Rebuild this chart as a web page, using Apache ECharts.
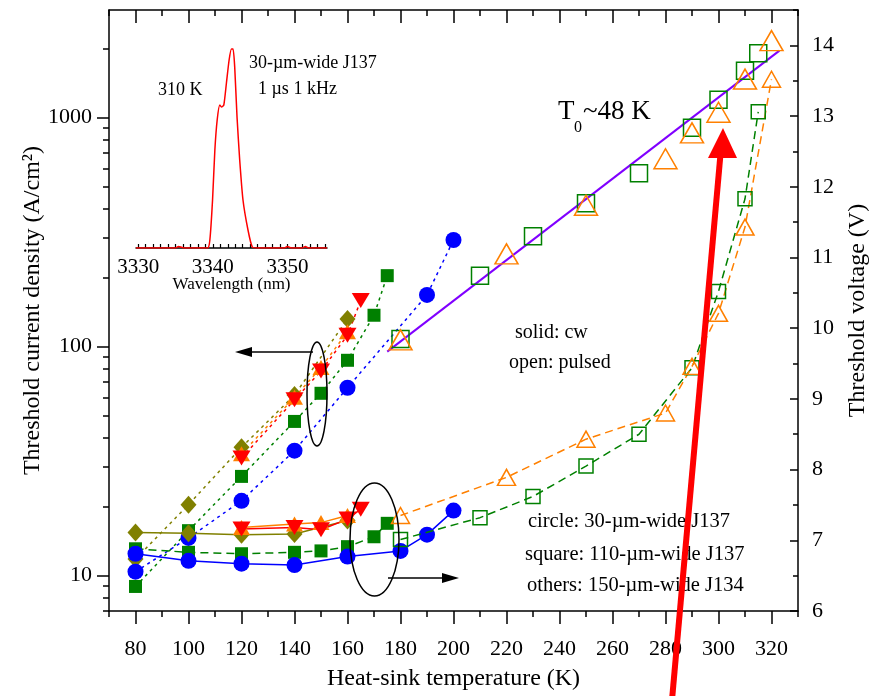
<!DOCTYPE html>
<html>
<head>
<meta charset="utf-8">
<script src="https://cdn.jsdelivr.net/npm/echarts@6/dist/echarts.min.js"></script>
<style>
html, body { margin: 0; padding: 0; background: #fff; }
#chart { width: 878px; height: 696px; }
</style>
</head>
<body>
<div id="chart"></div>
<script>
// tick values
const tempMajor = [80, 100, 120, 140, 160, 180, 200, 220, 240, 260, 280, 300, 320];
const tempMinor = [70, 90, 110, 130, 150, 170, 190, 210, 230, 250, 270, 290, 310, 330];
const jthMajor = [10, 100, 1000];
const jthMinor = [7, 8, 9, 20, 30, 40, 50, 60, 70, 80, 90, 200, 300, 400, 500, 600, 700, 800, 900, 2000];
const voltMajor = [6, 7, 8, 9, 10, 11, 12, 13, 14];
const voltMinor = [6.5, 7.5, 8.5, 9.5, 10.5, 11.5, 12.5, 13.5, 14.5];
const wlLabels = [3330, 3340, 3350];
const wlTicks = [3330, 3331, 3332, 3333, 3334, 3335, 3336, 3337, 3338, 3339, 3340, 3341, 3342, 3343, 3344,
  3345, 3346, 3347, 3348, 3349, 3350, 3351, 3352, 3353, 3354, 3355];

// threshold current density, cw (left axis)
const tOliveCw = [80, 100, 120, 140, 160];
const jOliveCw = [11.8, 20.4, 36.3, 61.4, 132];
const tSquareCw = [80, 100, 120, 140, 150, 160, 170, 175];
const jSquareCw = [8.96, 15.7, 27.1, 47.1, 62.5, 87.1, 137, 204];
const tOrangeCw = [120, 140, 150, 160];
const jOrangeCw = [34, 60, 81, 116];
const tRedCw = [120, 140, 150, 160, 165];
const jRedCw = [32.6, 58.5, 78.2, 112, 159];
const tCircleCw = [80, 100, 120, 140, 160, 190, 200];
const jCircleCw = [10.4, 14.6, 21.2, 35.1, 66.1, 168, 292];

// threshold current density, pulsed (left axis)
const tSquarePulsed = [180, 210, 230, 250, 270, 290, 300, 310, 315];
const jSquarePulsed = [108, 204, 303, 423, 571, 902, 1197, 1600, 1910];
const tTriPulsed = [180, 220, 250, 280, 290, 300, 310, 320];
const jTriPulsed = [107, 254, 414, 661, 857, 1055, 1473, 2167];

// T0 ~ 48 K fit line
const tFit = [175, 323];
const jFit = [95, 1960];

// threshold voltage, cw (right axis)
const vOliveCw = [7.11, 7.10, 7.08, 7.09, 7.28];
const vSquareCw = [6.88, 6.83, 6.81, 6.83, 6.85, 6.91, 7.05, 7.24];
const vOrangeCw = [7.18, 7.23, 7.25, 7.35];
const vRedCw = [7.16, 7.18, 7.15, 7.30, 7.44];
const tCircleV = [80, 100, 120, 140, 160, 180, 190, 200];
const vCircleCw = [6.81, 6.71, 6.67, 6.65, 6.77, 6.85, 7.08, 7.42];

// threshold voltage, pulsed (right axis)
const vSquarePulsed = [7.01, 7.32, 7.62, 8.05, 8.50, 9.44, 10.52, 11.83, 13.06];
const vTriPulsed = [7.35, 7.89, 8.43, 8.80, 9.46, 10.21, 11.43, 13.52];

// inset spectrum, 310 K
const wavelength = [3329.7, 3335.0, 3335.4, 3335.8, 3336.2, 3339.3, 3339.6, 3339.96, 3340.27, 3340.58, 3340.93,
  3341.16, 3341.47, 3341.82, 3342.18, 3342.49, 3342.71, 3342.93, 3343.24, 3343.6, 3344.04, 3344.71,
  3345.29, 3346.0, 3349.6, 3350.0, 3350.5, 3352.0, 3352.4, 3352.8, 3355.3];
const intensity = [0, 0, 0.008, 0.004, 0, 0, 0.04, 0.24, 0.49, 0.64, 0.715,
  0.705, 0.715, 0.825, 0.94, 0.995, 0.995, 0.905, 0.655, 0.44, 0.24, 0.09,
  0.005, 0, 0, 0.008, 0, 0, 0.008, 0, 0];

const FONT = 'Liberation Serif';
const pts = (xs, ys) => xs.map((x, i) => [x, ys[i]]);

const chart = echarts.init(document.getElementById('chart'));

function tickAxis(extra) {
  return Object.assign({
    type: 'value',
    gridIndex: 0,
    splitLine: { show: false },
    axisLine: { show: false },
    axisLabel: { show: false },
    axisTick: { show: true, lineStyle: { color: '#000', width: 1.5 } }
  }, extra);
}

function jthSeries(name, xs, ys, color, symbol, size, rotate, z) {
  return {
    name, type: 'line', xAxisIndex: 0, yAxisIndex: 0,
    data: pts(xs, ys), symbol, symbolSize: size, symbolRotate: rotate || 0,
    itemStyle: { color },
    lineStyle: { color, width: 1.5, type: [3, 4] },
    z: z || 3
  };
}
function voltSeries(name, xs, ys, color, symbol, size, rotate, dash, z) {
  return {
    name, type: 'line', xAxisIndex: 0, yAxisIndex: 2,
    data: pts(xs, ys), symbol, symbolSize: size, symbolRotate: rotate || 0,
    itemStyle: { color },
    lineStyle: { color, width: 1.5, type: dash || 'solid' },
    z: z || 3
  };
}
function openSeries(name, xs, ys, color, symbol, size, yIdx, dash) {
  return {
    name, type: 'line', xAxisIndex: 0, yAxisIndex: yIdx,
    data: pts(xs, ys), symbol, symbolSize: size,
    itemStyle: { color: 'rgba(0,0,0,0)', borderColor: color, borderWidth: 1.5 },
    lineStyle: dash ? { color, width: 1.5, type: dash } : { width: 0, opacity: 0 },
    z: 4
  };
}

const txt = (x, y, text, size, align) => ({
  type: 'text', x, y, z: 50,
  style: { text, font: size + 'px "' + FONT + '"', fill: '#000', align: align || 'left', verticalAlign: 'middle' }
});

const option = {
  animation: false,
  backgroundColor: '#fff',
  grid: [
    { left: 109, top: 10, width: 692, height: 604 },
    { left: 136, top: 48, width: 191, height: 200 }
  ],
  xAxis: [
    {
      type: 'value', gridIndex: 0, position: 'bottom', min: 70, max: 330,
      splitLine: { show: false },
      axisLine: { lineStyle: { color: '#000', width: 1.5 } },
      axisTick: { customValues: tempMajor, length: 13, lineStyle: { color: '#000', width: 1.5 } },
      axisLabel: { customValues: tempMajor, margin: 27, fontSize: 22, fontFamily: FONT, color: '#000' },
      name: 'Heat-sink temperature (K)', nameLocation: 'middle', nameGap: 56, nameMoveOverlap: false,
      nameTextStyle: { fontSize: 24, fontFamily: FONT, color: '#000' }
    },
    tickAxis({ position: 'bottom', min: 70, max: 330, axisTick: { customValues: tempMinor, length: 6, lineStyle: { color: '#000', width: 1.5 } } }),
    {
      type: 'value', gridIndex: 0, position: 'top', min: 70, max: 330,
      splitLine: { show: false },
      axisLine: { lineStyle: { color: '#000', width: 1.5 } },
      axisTick: { inside: true, customValues: tempMajor, length: 13, lineStyle: { color: '#000', width: 1.5 } },
      axisLabel: { show: false }
    },
    tickAxis({ position: 'top', min: 70, max: 330, axisTick: { inside: true, customValues: tempMinor, length: 6, lineStyle: { color: '#000', width: 1.5 } } }),
    {
      type: 'value', gridIndex: 1, position: 'bottom', min: 3329.7, max: 3355.3,
      splitLine: { show: false },
      axisLine: { lineStyle: { color: '#000', width: 1.5 } },
      axisTick: { inside: true, customValues: wlTicks, length: 4, lineStyle: { color: '#000', width: 1.2 } },
      axisLabel: { customValues: wlLabels, margin: 9, fontSize: 21, fontFamily: FONT, color: '#000', formatter: v => String(v) },
      name: 'Wavelength (nm)', nameLocation: 'middle', nameGap: 28, nameMoveOverlap: false,
      nameTextStyle: { fontSize: 17, fontFamily: FONT, color: '#000' }
    }
  ],
  yAxis: [
    {
      type: 'log', logBase: 10, gridIndex: 0, position: 'left', min: 7, max: 2950,
      splitLine: { show: false },
      axisLine: { lineStyle: { color: '#000', width: 1.5 } },
      axisTick: { customValues: jthMajor, length: 12, lineStyle: { color: '#000', width: 1.5 } },
      axisLabel: { customValues: jthMajor, margin: 17, fontSize: 22, fontFamily: FONT, color: '#000', formatter: v => String(Math.round(v)) },
      name: 'Threshold current density (A/cm²)', nameLocation: 'middle', nameGap: 64, nameRotate: 90,
      nameMoveOverlap: false,
      nameTextStyle: { fontSize: 24, fontFamily: FONT, color: '#000' }
    },
    tickAxis({ type: 'log', logBase: 10, position: 'left', min: 7, max: 2950, axisTick: { customValues: jthMinor, length: 6, lineStyle: { color: '#000', width: 1.5 } } }),
    {
      type: 'value', gridIndex: 0, position: 'right', min: 6, max: 14.5,
      splitLine: { show: false },
      axisLine: { lineStyle: { color: '#000', width: 1.5 } },
      axisTick: { inside: true, customValues: voltMajor, length: 8, lineStyle: { color: '#000', width: 1.5 } },
      axisLabel: { customValues: voltMajor, margin: 14, fontSize: 22, fontFamily: FONT, color: '#000' },
      name: 'Threshold voltage (V)', nameLocation: 'middle', nameGap: 48, nameRotate: 90,
      nameMoveOverlap: false,
      nameTextStyle: { fontSize: 24, fontFamily: FONT, color: '#000' }
    },
    tickAxis({ position: 'right', min: 6, max: 14.5, axisTick: { inside: true, customValues: voltMinor, length: 5, lineStyle: { color: '#000', width: 1.5 } } }),
    { type: 'value', gridIndex: 1, min: 0, max: 1, show: false }
  ],
  series: [
    jthSeries('J olive cw', tOliveCw, jOliveCw, '#808000', 'diamond', [16, 18]),
    jthSeries('J square cw', tSquareCw, jSquareCw, '#008000', 'rect', 13),
    jthSeries('J orange cw', tOrangeCw, jOrangeCw, '#FF8000', 'triangle', [17, 15]),
    jthSeries('J red cw', tRedCw, jRedCw, '#FF0000', 'triangle', [18, 15], 180),
    jthSeries('J circle cw', tCircleCw, jCircleCw, '#0000FF', 'circle', 16),
    {
      name: 'T0 fit', type: 'line', xAxisIndex: 0, yAxisIndex: 0, data: pts(tFit, jFit),
      symbol: 'none', lineStyle: { color: '#8000FF', width: 2 }, z: 3
    },
    openSeries('J square pulsed', tSquarePulsed, jSquarePulsed, '#008000', 'rect', 17, 0),
    openSeries('J triangle pulsed', tTriPulsed, jTriPulsed, '#FF8000', 'triangle', [23, 20], 0),

    voltSeries('V olive cw', tOliveCw, vOliveCw, '#808000', 'diamond', [16, 18]),
    voltSeries('V square cw', tSquareCw, vSquareCw, '#008000', 'rect', 13, 0, [8, 5]),
    voltSeries('V orange cw', tOrangeCw, vOrangeCw, '#FF8000', 'triangle', [17, 15]),
    voltSeries('V red cw', tRedCw, vRedCw, '#FF0000', 'triangle', [18, 15], 180),
    voltSeries('V circle cw', tCircleV, vCircleCw, '#0000FF', 'circle', 16),
    openSeries('V square pulsed', tSquarePulsed, vSquarePulsed, '#008000', 'rect', 14, 2, [8, 5]),
    openSeries('V triangle pulsed', tTriPulsed, vTriPulsed, '#FF8000', 'triangle', [18, 16], 2, [8, 5]),

    {
      name: 'spectrum', type: 'line', xAxisIndex: 4, yAxisIndex: 4,
      data: pts(wavelength, intensity), symbol: 'none', smooth: 0.2,
      lineStyle: { color: '#FF0000', width: 1.5 }, z: 2
    }
  ],
  graphic: [
    txt(158, 90, '310 K', 18),
    txt(249, 63, '30-µm-wide J137', 18),
    txt(258, 89, '1 µs 1 kHz', 18),
    txt(558, 112, 'T', 27),
    txt(574, 128, '0', 16),
    txt(583, 112, '~48 K', 27),
    txt(515, 333, 'solid: cw', 20),
    txt(509, 363, 'open: pulsed', 20),
    txt(528, 522, 'circle: 30-µm-wide J137', 20.5),
    txt(525, 555, 'square: 110-µm-wide J137', 20.5),
    txt(527, 586, 'others: 150-µm-wide J134', 20.5),
    { type: 'ellipse', z: 40, shape: { cx: 317, cy: 394, rx: 10, ry: 52 }, style: { fill: 'none', stroke: '#000', lineWidth: 1.5 } },
    { type: 'line', z: 40, shape: { x1: 313, y1: 352, x2: 248, y2: 352 }, style: { stroke: '#000', lineWidth: 1.5 } },
    { type: 'polygon', z: 40, shape: { points: [[235, 352], [252, 347], [252, 357]] }, style: { fill: '#000' } },
    { type: 'ellipse', z: 40, shape: { cx: 374.5, cy: 539.5, rx: 24.5, ry: 56.5 }, style: { fill: 'none', stroke: '#000', lineWidth: 1.5 } },
    { type: 'line', z: 40, shape: { x1: 388, y1: 578, x2: 445, y2: 578 }, style: { stroke: '#000', lineWidth: 1.5 } },
    { type: 'polygon', z: 40, shape: { points: [[459, 578], [442, 573], [442, 583]] }, style: { fill: '#000' } },
    { type: 'line', z: 60, shape: { x1: 672, y1: 700, x2: 720.5, y2: 154 }, style: { stroke: '#FF0000', lineWidth: 6 } },
    { type: 'polygon', z: 60, shape: { points: [[723, 128], [708, 158], [737, 158]] }, style: { fill: '#FF0000' } }
  ]
};

chart.setOption(option);
</script>
</body>
</html>
